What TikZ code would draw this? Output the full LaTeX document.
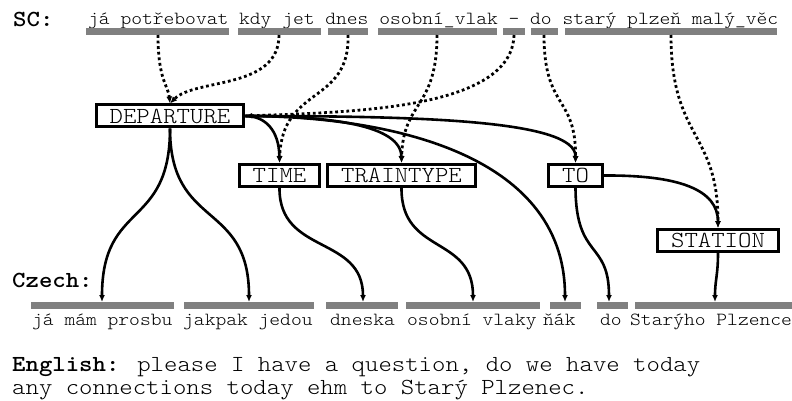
\documentclass[tikz,border=0pt]{standalone}
\usepackage{fontspec}
\usetikzlibrary{arrows.meta}
% typewriter face, widened a little
\newfontfamily\cour{lmmonolt10-regular.otf}[FakeStretch=1.11, BoldFont=lmmonolt10-bold.otf]
\definecolor{barcol}{HTML}{808080}

\begin{document}
\begin{tikzpicture}[x=1pt,y=-1pt,
  word/.style={font=\cour\fontsize{18.5}{22}\selectfont, inner sep=0pt, anchor=base west},
  rowlabel/.style={font=\cour\bfseries\fontsize{23}{26}\selectfont, inner sep=0pt, anchor=base west},
  engtext/.style={font=\cour\fontsize{23}{26}\selectfont, inner sep=0pt, anchor=base west},
  bar/.style={fill=barcol, inner sep=0pt, minimum height=7pt, anchor=north west},
  concept/.style={draw, line width=3pt, font=\cour\fontsize{23}{26}\selectfont,
                  inner xsep=13.5pt, inner ysep=0pt, minimum height=22pt},
  link/.style={line width=2.6pt, -{Latex[length=7pt,width=6pt]}},
  align/.style={line width=2.8pt, dash pattern=on 2.8pt off 2.8pt, -{Latex[length=7pt,width=6pt]}}
]
\useasboundingbox (0,0) rectangle (792,401);

% ---- row labels
\node[rowlabel] (lsc) at (13,27) {SC:};
\node[rowlabel] (lcz) at (12,287) {Czech:};
\node[engtext] (en1) at (12,371) {\textbf{English:} please I have a question, do we have today};
\node[engtext] (en2) at (12,394) {any connections today ehm to Starý Plzenec.};

% ---- SC words and their bars
\node[word] (sctext) at (88,25) {já potřebovat kdy jet dnes osobní\_vlak - do starý plzeň malý\_věc};
\node[bar, minimum width=143pt] (sc1) at (86,28) {};
\node[bar, minimum width=83pt]  (sc2) at (238,28) {};
\node[bar, minimum width=40pt]  (sc3) at (328,28) {};
\node[bar, minimum width=119pt] (sc4) at (378,28) {};
\node[bar, minimum width=22pt]  (sc5) at (503,28) {};
\node[bar, minimum width=27pt]  (sc6) at (531,28) {};
\node[bar, minimum width=212pt] (sc7) at (565,28) {};

% ---- Czech words and their bars
\node[bar, minimum width=143pt] (cz1) at (31,302) {};
\node[bar, minimum width=130pt] (cz2) at (184,302) {};
\node[bar, minimum width=72pt]  (cz3) at (326,302) {};
\node[bar, minimum width=134pt] (cz4) at (406,302) {};
\node[bar, minimum width=31pt]  (cz5) at (550,302) {};
\node[bar, minimum width=31pt]  (cz6) at (597,302) {};
\node[bar, minimum width=160pt] (cz7) at (635,302) {};
\node[word] (czt1) at (32,325)  {já mám prosbu};
\node[word] (czt2) at (183,325) {jakpak jedou};
\node[word] (czt3) at (330,325) {dneska};
\node[word] (czt4) at (407,325) {osobní vlaky};
\node[word] (czt5) at (543,325) {ňák};
\node[word] (czt6) at (600,325) {do};
\node[word] (czt7) at (630,325) {Starýho Plzence};

% ---- attachment points on the bars
\coordinate (sc1o) at (158,35);
\coordinate (sc2o) at (279,35);
\coordinate (sc3o) at (348,35);
\coordinate (sc4o) at (437,35);
\coordinate (sc5o) at (514,35);
\coordinate (sc6o) at (544,35);
\coordinate (sc7o) at (671,35);
\coordinate (cz1i) at (102,302);
\coordinate (cz2i) at (249,302);
\coordinate (cz3i) at (363,302);
\coordinate (cz4i) at (473,302);
\coordinate (cz5i) at (565,302);
\coordinate (cz6i) at (609,302);
\coordinate (cz7i) at (715,302);

% ---- semantic concepts
\node[concept] (dep) at (170,116)   {DEPARTURE};
\node[concept] (tim) at (279.5,175.5) {TIME};
\node[concept] (trt) at (401.5,175.5) {TRAINTYPE};
\node[concept] (dst) at (575.5,175.5) {TO};
\node[concept] (sta) at (718,240.5) {STATION};

% ---- SC words aligned to concepts
\draw[align] (sc1o) .. controls (158,80) and (168,85) .. (dep.north);
\draw[align] (sc2o) .. controls (279,90) and (195,78) .. (dep.north);
\draw[align] (sc3o) .. controls (350,105) and (282,85) .. (tim.north);
\draw[align] (sc4o) .. controls (437,110) and (403,100) .. (trt.north);
\draw[align] (sc5o) .. controls (512,110) and (350,112) .. (dep.east);
\draw[align] (sc6o) .. controls (544,110) and (576,95) .. (dst.north);
\draw[align] (sc7o) .. controls (671,140) and (718,130) .. (sta.north);

% ---- concept structure
\draw[link] (dep.east) .. controls (265,116) and (279,130) .. (tim.north);
\draw[link] (dep.east) .. controls (330,116) and (401,125) .. (trt.north);
\draw[link] (dep.east) .. controls (420,116) and (576,120) .. (dst.north);
\draw[link] (dst.east) .. controls (680,175) and (718,190) .. (sta.north);

% ---- concepts realised by Czech words
\draw[link] (dep.south) .. controls (170,230) and (102,200) .. (cz1i);
\draw[link] (dep.south) .. controls (170,230) and (249,200) .. (cz2i);
\draw[link] (dep.east)  .. controls (380,116) and (565,150) .. (cz5i);
\draw[link] (tim.south) .. controls (279,255) and (363,235) .. (cz3i);
\draw[link] (trt.south) .. controls (401,255) and (473,235) .. (cz4i);
\draw[link] (dst.south) .. controls (576,260) and (609,240) .. (cz6i);
\draw[link] (sta.south) .. controls (718,275) and (715,280) .. (cz7i);
\end{tikzpicture}
\end{document}
